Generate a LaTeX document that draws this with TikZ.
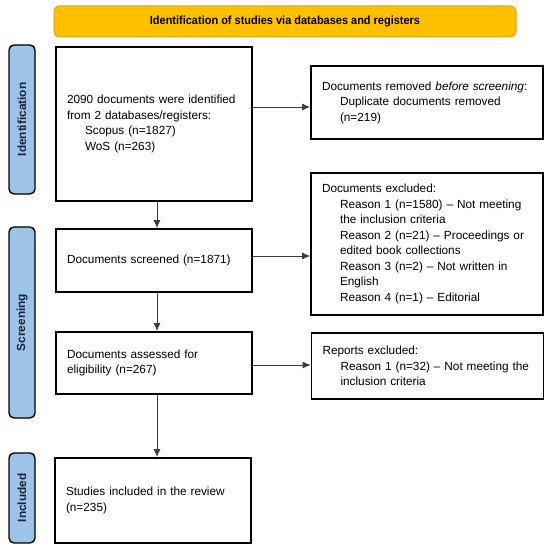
\documentclass[tikz,border=0pt]{standalone}
\usepackage{fontspec}
\setmainfont{Liberation Sans}
\newfontfamily\bannerfont[FakeStretch=0.93]{Liberation Sans}
\usetikzlibrary{arrows.meta,calc}

\definecolor{bannerfill}{RGB}{255,192,0}
\definecolor{bannerline}{RGB}{222,165,20}
\definecolor{phasefill}{RGB}{157,195,230}
\definecolor{phasetext}{RGB}{25,35,55}
\definecolor{arrowgray}{RGB}{60,60,60}

\tikzset{
  box/.style={draw=black, line width=1.8pt, fill=white, align=left, inner xsep=11pt, inner ysep=0pt,
    font=\fontsize{11.8}{15.5}\selectfont},
  phase/.style={draw=black, line width=1.4pt, fill=phasefill, rounded corners=5pt, rotate=90,
    minimum height=26pt, inner sep=0pt, text=phasetext, font=\bfseries\fontsize{11.8}{14}\selectfont},
  banner/.style={draw=bannerline, line width=1pt, fill=bannerfill, rounded corners=5pt,
    minimum width=462pt, minimum height=31pt, font=\bannerfont\bfseries\fontsize{11.8}{14}\selectfont},
  flow/.style={draw=arrowgray, line width=0.9pt, -{Latex[length=8pt,width=7pt]}},
}
\newcommand{\ind}{\hspace*{18pt}}

\begin{document}
\begin{tikzpicture}[x=1pt,y=-1pt]
  \useasboundingbox (0,0) rectangle (550,551);
  % header
  \node[banner] (title) at (285,21.5) {Identification of studies via databases and registers};
  % phases
  \node[phase, minimum width=149pt] (phid) at (22,119.5) {Identification};
  \node[phase, minimum width=191pt] (phscr) at (22,322.5) {Screening};
  \node[phase, minimum width=90pt] (phinc) at (22,498) {Included};
  % main column
  \node[box, text width=174pt, minimum height=154pt] (ident) at (154,124)
    {2090 documents were identified\\from 2 databases/registers:\\\ind Scopus (n=1827)\\\ind WoS (n=263)};
  \node[box, text width=174pt, minimum height=63pt] (screened) at (154,260.5)
    {Documents screened (n=1871)};
  \node[box, text width=174pt, minimum height=62pt] (assessed) at (154,363)
    {Documents assessed for\\eligibility (n=267)};
  \node[box, text width=174pt, minimum height=85pt] (included) at (153,500.5)
    {Studies included in the review\\(n=235)};
  % side column
  \node[box, text width=210pt, minimum height=73pt] (removed) at (427,102.5)
    {Documents removed \textit{before screening}:\\\ind Duplicate documents removed\\\ind (n=219)};
  \node[box, text width=210pt, minimum height=142pt] (excluded) at (427,244)
    {Documents excluded:\\\ind Reason 1 (n=1580) -- Not meeting\\\ind the inclusion criteria\\\ind Reason 2 (n=21) -- Proceedings or\\\ind edited book collections\\\ind Reason 3 (n=2) -- Not written in\\\ind English\\\ind Reason 4 (n=1) -- Editorial\\[4pt]};
  \node[box, text width=210pt, minimum height=66pt] (reports) at (427.5,366)
    {Reports excluded:\\\ind Reason 1 (n=32) -- Not meeting the\\\ind inclusion criteria};
  % arrows
  \draw[flow] ([xshift=3pt]ident.south) -- ([xshift=3pt]screened.north);
  \draw[flow] ([xshift=3pt]screened.south) -- ([xshift=3pt]assessed.north);
  \draw[flow] ([xshift=3pt]assessed.south) -- ([xshift=4pt]included.north);
  \draw[flow] ([yshift=-4.5pt]ident.east |- removed.west) -- ([yshift=-4.5pt]removed.west);
  \draw[flow] ([yshift=4.5pt]screened.east) -- ([yshift=4.5pt]screened.east -| excluded.west);
  \draw[flow] ([yshift=-2pt]assessed.east) -- ([yshift=-2pt]assessed.east -| reports.west);
\end{tikzpicture}
\end{document}
